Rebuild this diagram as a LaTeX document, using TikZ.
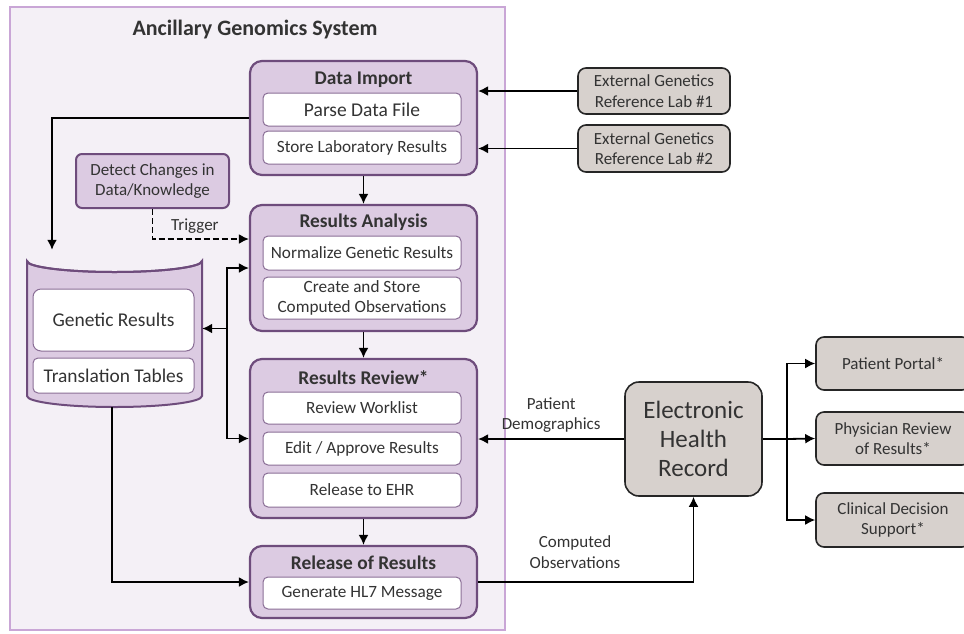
\documentclass[tikz,border=0pt]{standalone}
\usepackage{fontspec}
\setmainfont{Carlito}
\usepackage{xcolor}
\usepackage{tikz}
\usetikzlibrary{arrows.meta}
\definecolor{sysfill}{HTML}{F4F0F6}
\definecolor{sysline}{HTML}{C9A6D6}
\definecolor{stagefill}{HTML}{DCCBE2}
\definecolor{stageline}{HTML}{6E4C7C}
\definecolor{stepline}{HTML}{8A6E96}
\definecolor{extfill}{HTML}{D7D1CD}
\definecolor{txt}{HTML}{333333}
\begin{document}
\begin{tikzpicture}[x=1pt,y=-1pt,
  stage/.style={draw=stageline,fill=stagefill,line width=2.2pt,rounded corners=12pt,minimum width=227pt},
  stagetitle/.style={text=txt,font=\fontsize{19.4}{22}\selectfont\bfseries},
  substep/.style={draw=stepline,fill=white,line width=1pt,rounded corners=5pt,minimum width=198pt,text=txt,align=center,font=\fontsize{17.2}{20.5}\selectfont},
  extbox/.style={draw=black!85,fill=extfill,line width=1.6pt,rounded corners=8pt,text=txt,align=center,font=\fontsize{17}{20.5}\selectfont},
  lbl/.style={text=txt,align=center,font=\fontsize{17}{20.5}\selectfont},
  arr/.style={line width=1.8pt,-{Latex[length=10pt,width=10pt]}}]
\useasboundingbox (0,0) rectangle (964,633);

\draw [sysline,line width=2pt,fill=sysfill] (10,7) rectangle (505,630);
\node (sys) [text=txt,font=\fontsize{22}{24}\selectfont\bfseries] at (255,30) {Ancillary Genomics System};

\node (imp) [stage,minimum height=114pt] at (363.5,118) {};
\node (impT) [stagetitle] at (363.5,80) {Data Import};
\node (parse) [substep,minimum height=33pt,font=\fontsize{19.5}{22}\selectfont] at (362,109.5) {Parse Data File};
\node (store) [substep,minimum height=33pt] at (362,147.5) {Store Laboratory Results};

\node (ana) [stage,minimum height=126pt] at (363.5,268) {};
\node (anaT) [stagetitle] at (363.5,222) {Results Analysis};
\node (norm) [substep,minimum height=34pt] at (362,253) {Normalize Genetic Results};
\node (comp) [substep,minimum height=42pt] at (362,298) {Create and Store\\Computed Observations};

\node (rev) [stage,minimum height=159pt] at (363.5,438.5) {};
\node (revT) [stagetitle] at (363.5,378) {Results Review*};
\node (work) [substep,minimum height=32pt] at (362,408) {Review Worklist};
\node (edit) [substep,minimum height=33pt] at (362,448.5) {Edit / Approve Results};
\node (toehr) [substep,minimum height=34pt] at (362,490) {Release to EHR};

\node (rel) [stage,minimum height=72pt] at (363.5,582) {};
\node (relT) [stagetitle] at (363.5,563) {Release of Results};
\node (hl7) [substep,minimum height=32pt] at (362,593) {Generate HL7 Message};

\node (det) [stage,line width=2pt,rounded corners=6pt,minimum width=153pt,minimum height=54pt,
  text=txt,align=center,font=\fontsize{17}{20.5}\selectfont] at (152.5,181) {Detect Changes in\\Data/Knowledge};

\filldraw [stageline,fill=stagefill,line width=2pt] (27,261) -- (27,396) arc[start angle=180,end angle=360,x radius=87.5,y radius=-11] -- (202,261) arc[start angle=0,end angle=-180,x radius=87.5,y radius=-11] -- cycle;
\draw [stageline,line width=2pt] (27,261) arc[start angle=180,end angle=360,x radius=87.5,y radius=-11];
\node (db) [minimum width=175pt,minimum height=157pt,inner sep=0pt] at (114.5,328.5) {};
\node (gen) [substep,minimum width=161pt,minimum height=62pt,rounded corners=8pt,font=\fontsize{19.5}{22}\selectfont] at (113.5,320) {Genetic Results};
\node (trans) [substep,minimum width=161pt,minimum height=35pt,font=\fontsize{19.4}{22}\selectfont] at (113.5,375.5) {Translation Tables};

\node (lab1) [extbox,minimum width=152pt,minimum height=46pt] at (654,91) {External Genetics\\Reference Lab \#1};
\node (lab2) [extbox,minimum width=152pt,minimum height=47pt] at (654,148.5) {External Genetics\\Reference Lab \#2};

\node (ehr) [extbox,rounded corners=14pt,minimum width=137pt,minimum height=114pt,font=\fontsize{25}{29}\selectfont] at (693.5,439) {Electronic\\Health\\Record};
\node (portal) [extbox,minimum width=154pt,minimum height=53pt] at (893,363.5) {Patient Portal*};
\node (phys) [extbox,minimum width=154pt,minimum height=53pt] at (893,438.5) {Physician Review\\of Results*};
\node (cds) [extbox,minimum width=154pt,minimum height=54pt] at (893,520) {Clinical Decision\\Support*};

\draw [arr] (lab1.west) -- (lab1.west -| imp.east);
\draw [arr] (lab2.west) -- (lab2.west -| imp.east);
\draw [arr] (imp) -- (ana);
\draw [arr] (ana) -- (rev);
\draw [arr] (rev) -- (rel);
\draw [arr] (imp.west) -| ([xshift=-62.5pt]db.north);
\draw [arr,dash pattern=on 6pt off 3pt] (det.south) |- ([yshift=29pt]ana.west) node [lbl,pos=0.72,above=1pt] (trig) {Trigger};
\coordinate (hub) at (227,328.5);
\draw [arr] (hub) -- (db.east);
\draw [arr] (hub) |- (ana.west);
\draw [arr] (hub) |- (rev.west);
\draw [arr] ([xshift=-2.5pt]db.south) |- (rel.west);

\draw [arr] (ehr.west) -- (ehr.west -| rev.east) node [lbl,midway,above=2pt] (demo) {Patient\\Demographics};
\draw [arr] (rel.east) -| (ehr.south);
\node (obs) [lbl] at (575,552) {Computed\\Observations};
\coordinate (fork) at (787,439);
\draw [line width=1.8pt] (ehr.east) -- (fork);
\draw [arr] (fork) |- (portal.west);
\draw [arr] (fork) -- (phys.west);
\draw [arr] (fork) |- (cds.west);
\end{tikzpicture}
\end{document}
